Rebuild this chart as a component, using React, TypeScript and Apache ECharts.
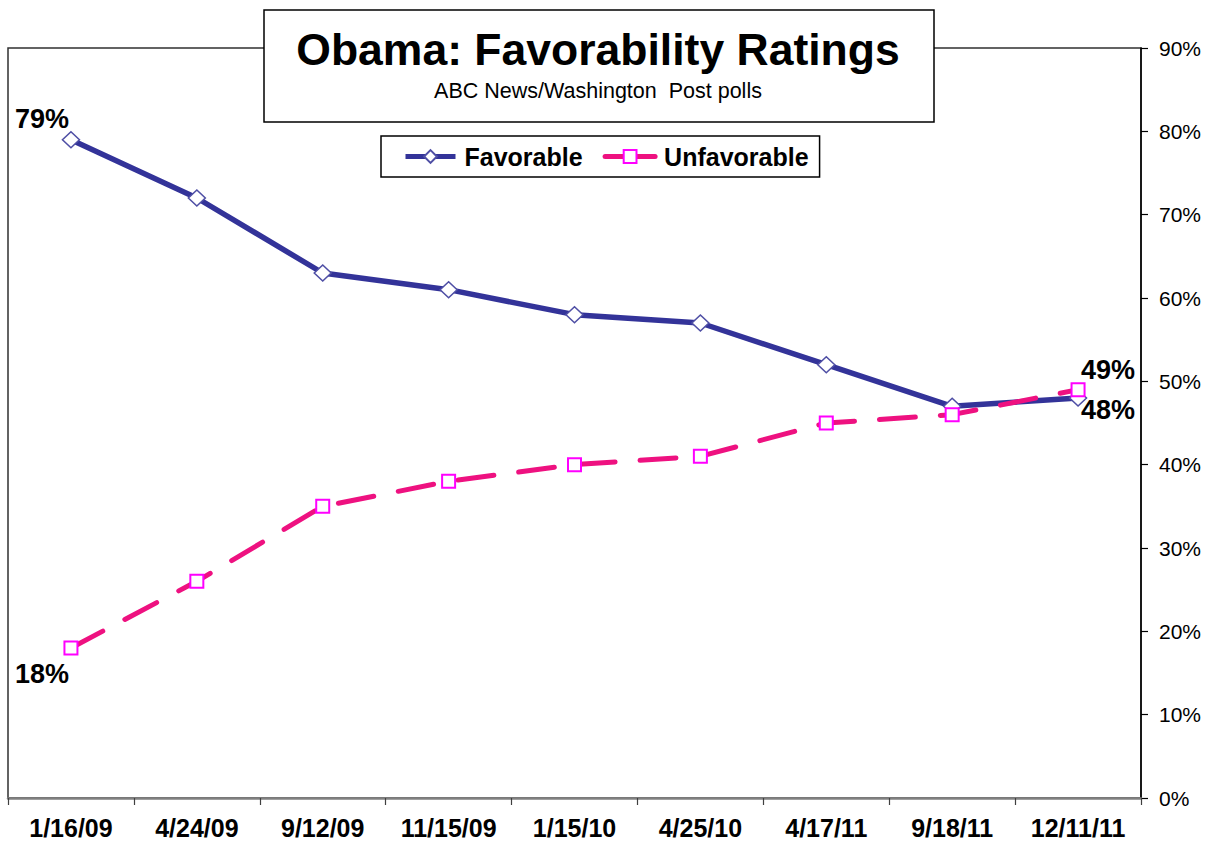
import React, { useEffect, useRef } from "react";
import * as echarts from "echarts";

const categories = ["1/16/09", "4/24/09", "9/12/09", "11/15/09", "1/15/10", "4/25/10", "4/17/11", "9/18/11", "12/11/11"];
const favorable = [79, 72, 63, 61, 58, 57, 52, 47, 48];
const unfavorable = [18, 26, 35, 38, 40, 41, 45, 46, 49];
const yTicks = { min: 0, max: 90, interval: 10 };
const titleText = "Obama: Favorability Ratings";
const subtitleText = "ABC News/Washington  Post polls";

const FONT = "'Liberation Sans', Arial, sans-serif";

export default function App() {
  const ref = useRef<HTMLDivElement>(null);
  useEffect(() => {
    if (!ref.current) return;
    const chart = echarts.init(ref.current, null, { renderer: "svg" });
    const labelStyle = { fontFamily: FONT, fontWeight: "bold", fontSize: 27, color: "#000" };
    const last = categories.length - 1;
    const favData = favorable.map((v, i) => {
      if (i === 0) return { value: v, label: { show: true, position: "top", offset: [-29, 7], ...labelStyle, formatter: "{c}%" } };
      if (i === last) return { value: v, label: { show: true, position: "bottom", offset: [30, -15], ...labelStyle, formatter: "{c}%" } };
      return v;
    });
    const unfavData = unfavorable.map((v, i) => {
      if (i === 0) return { value: v, label: { show: true, position: "bottom", offset: [-29, 0], ...labelStyle, formatter: "{c}%" } };
      if (i === last) return { value: v, label: { show: true, position: "top", offset: [30, 6], ...labelStyle, formatter: "{c}%" } };
      return v;
    });
    chart.setOption({
      animation: false,
      backgroundColor: "#fff",
      textStyle: { fontFamily: FONT },
      grid: {
        left: 8,
        right: 72,
        top: 48,
        bottom: 43,
        show: true,
        borderColor: "#303030",
        borderWidth: 1.5,
        backgroundColor: "transparent",
      },
      legend: {
        left: 381,
        top: 136,
        padding: [8, 11, 8, 22],
        itemWidth: 50,
        itemHeight: 16,
        itemGap: 20,
        borderColor: "#000",
        borderWidth: 1.5,
        backgroundColor: "#fff",
        lineStyle: { width: 5, type: "solid" },
        textStyle: { fontFamily: FONT, fontWeight: "bold", fontSize: 25, color: "#000", padding: [0, 0, 0, 4] },
        data: ["Favorable", "Unfavorable"],
      },
      xAxis: {
        type: "category",
        data: categories,
        boundaryGap: true,
        axisLine: { show: true, lineStyle: { color: "#808080", width: 2.5 } },
        axisTick: { show: true, length: 7, lineStyle: { color: "#404040", width: 1.2 } },
        axisLabel: { fontFamily: FONT, fontWeight: "bold", fontSize: 25, color: "#000", margin: 17, interval: 0 },
        splitLine: { show: false },
      },
      yAxis: {
        type: "value",
        position: "right",
        min: yTicks.min,
        max: yTicks.max,
        interval: yTicks.interval,
        axisLine: { show: true, lineStyle: { color: "#000", width: 1.5 } },
        axisTick: { show: true, inside: false, length: 7, lineStyle: { color: "#000", width: 1.2 } },
        axisLabel: { fontFamily: FONT, fontSize: 21, color: "#000", margin: 18, formatter: "{value}%" },
        splitLine: { show: false },
      },
      series: [
        {
          name: "Favorable",
          type: "line",
          data: favData,
          symbol: "diamond",
          symbolSize: [17, 16],
          showAllSymbol: true,
          lineStyle: { color: "#333399", width: 5.5 },
          itemStyle: { color: "#fff", borderColor: "#4f4fa5", borderWidth: 1.5 },
          z: 3,
        },
        {
          name: "Unfavorable",
          type: "line",
          data: unfavData,
          symbol: "rect",
          symbolSize: 13,
          showAllSymbol: true,
          lineStyle: { color: "#EE1180", width: 5, type: [36, 25], cap: "round" },
          itemStyle: { color: "#fff", borderColor: "#FF00FF", borderWidth: 2 },
          z: 4,
        },
      ],
      graphic: [
        {
          type: "rect",
          z: 100,
          shape: { x: 264, y: 10, width: 670, height: 112 },
          style: { fill: "#fff", stroke: "#000", lineWidth: 1.5 },
        },
        {
          type: "text",
          z: 101,
          x: 598,
          y: 49,
          style: {
            text: titleText,
            fontFamily: FONT,
            fontWeight: "bold",
            fontSize: 44.5,
            fill: "#000",
            align: "center",
            verticalAlign: "middle",
          },
        },
        {
          type: "text",
          z: 101,
          x: 598,
          y: 91,
          style: {
            text: subtitleText,
            fontFamily: FONT,
            fontSize: 21.5,
            fill: "#000",
            align: "center",
            verticalAlign: "middle",
          },
        },
      ],
    });
    return () => chart.dispose();
  }, []);
  return (
    <div
      ref={ref}
      style={{ position: "absolute", left: 0, top: 0, width: 1213, height: 841 }}
    />
  );
}
